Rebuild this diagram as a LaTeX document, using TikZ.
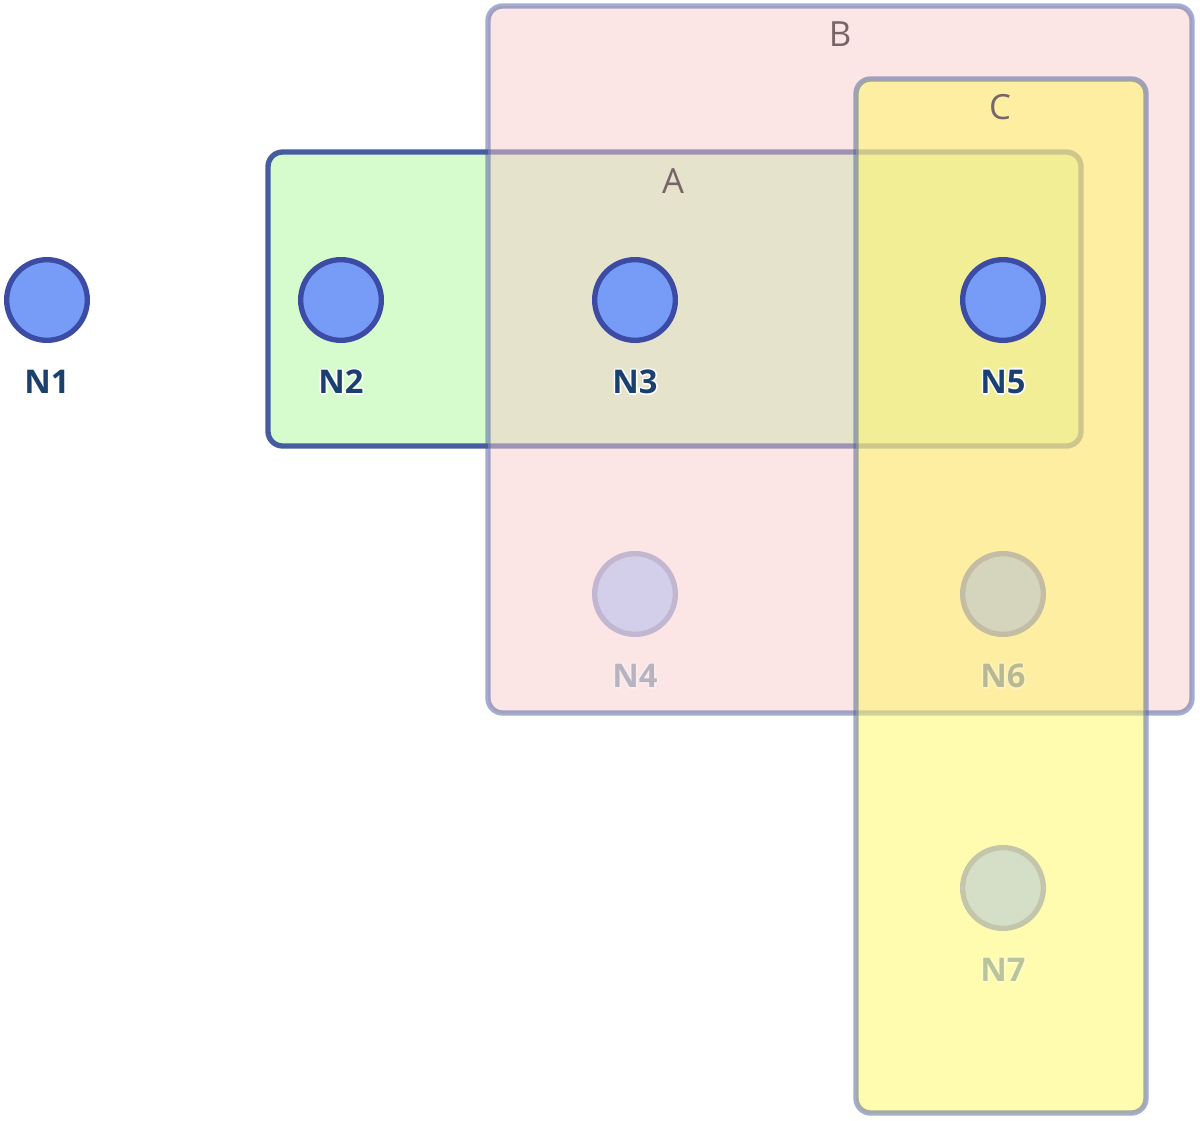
\documentclass[tikz,border=0pt]{standalone}
\usepackage{fontspec}
\setmainfont{Open Sans}
\definecolor{nodefill}{RGB}{119,156,248}
\definecolor{nodeline}{RGB}{60,76,165}
\definecolor{labelblue}{RGB}{26,64,112}
\definecolor{setline}{RGB}{70,92,160}
\definecolor{afill}{RGB}{214,252,206}
\definecolor{bfill}{RGB}{247,203,203}
\definecolor{cfill}{RGB}{255,249,97}
\definecolor{settext}{RGB}{118,102,104}

% node label with a thin white halo behind the text
\newcommand\halolabel[3]{%
  \foreach \hx/\hy in {1.6/0,-1.6/0,0/1.6,0/-1.6,1.1/1.1,-1.1/1.1,1.1/-1.1,-1.1/-1.1}
    \node[vlabel,text=white,xshift=\hx*0.75pt,yshift=\hy*0.75pt] at (#2) {#3};
  \node[vlabel] (#1) at (#2) {#3};}

\begin{document}
\begin{tikzpicture}[x=0.75pt,y=-0.75pt,
  setbox/.style={line width=4pt,rounded corners=11pt},
  settitle/.style={text=settext,font=\fontsize{26}{30}\selectfont,inner sep=0pt},
  vertex/.style={circle,draw=nodeline,fill=nodefill,line width=4pt,minimum size=60.5pt,inner sep=0pt},
  vlabel/.style={text=labelblue,font=\bfseries\fontsize{24.5}{28}\selectfont,inner sep=0pt},
  faded/.style={transparency group,opacity=0.3}]
\useasboundingbox (0,0) rectangle (1200,1121);

% set A (highlighted)
\draw[setbox,draw=setline,fill=afill] (268,152) rectangle (1081,446);
% sets B and C, half transparent over A
\draw[setbox,draw=setline,draw opacity=0.5,fill=bfill,fill opacity=0.5] (488,6) rectangle (1192,713);
\draw[setbox,draw=setline,draw opacity=0.5,fill=cfill,fill opacity=0.5] (856,79) rectangle (1146,1113);

% set titles
\node[settitle] (tA) at (673,181) {A};
\node[settitle] (tB) at (840,34) {B};
\node[settitle] (tC) at (1000,107) {C};

% highlighted vertices
\node[vertex] (n1) at (47,300) {};
\node[vertex] (n2) at (341,300) {};
\node[vertex] (n3) at (635,300) {};
\node[vertex] (n5) at (1003,300) {};
\halolabel{l1}{47,382}{N1}
\halolabel{l2}{341,382}{N2}
\halolabel{l3}{635,382}{N3}
\halolabel{l5}{1003,382}{N5}

% faded vertices
\begin{scope}[faded]
  \node[vertex] (n4) at (635,594) {};
  \halolabel{l4}{635,676}{N4}
\end{scope}
\begin{scope}[faded]
  \node[vertex] (n6) at (1003,594) {};
  \halolabel{l6}{1003,676}{N6}
\end{scope}
\begin{scope}[faded]
  \node[vertex] (n7) at (1003,888) {};
  \halolabel{l7}{1003,970}{N7}
\end{scope}
\end{tikzpicture}
\end{document}
